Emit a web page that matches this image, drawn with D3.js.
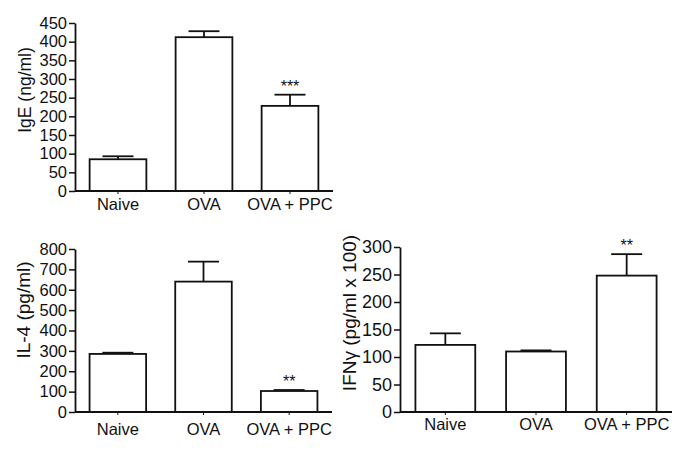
<!DOCTYPE html>
<html>
<head>
<meta charset="utf-8">
<script src="https://cdn.jsdelivr.net/npm/d3@7/dist/d3.min.js"></script>
<style>
  html, body { margin: 0; padding: 0; background: #fff; }
  svg { display: block; }
  text { font-family: "Liberation Sans", Arial, sans-serif; fill: #111; }
</style>
</head>
<body>
<svg id="chart" width="685" height="467"></svg>
<script>
const categories = ["Naive", "OVA", "OVA + PPC"];

const igeValues = [85, 412, 228];
const igeErrors = [93, 428, 258];
const igeSig = ["", "", "***"];
const igeTicks = [0, 50, 100, 150, 200, 250, 300, 350, 400, 450];

const il4Values = [285, 640, 103];
const il4Errors = [291, 738, 108];
const il4Sig = ["", "", "**"];
const il4Ticks = [0, 100, 200, 300, 400, 500, 600, 700, 800];

const ifnValues = [122, 110, 248];
const ifnErrors = [143, 112, 287];
const ifnSig = ["", "", "**"];
const ifnTicks = [0, 50, 100, 150, 200, 250, 300];

const svg = d3.select("#chart");

function panel(opt) {
  const g = svg.append("g");
  const x = d3.scaleBand().domain(categories).range([opt.x0, opt.x1])
    .paddingInner(0.34).paddingOuter(0.17);
  const y = d3.scaleLinear().domain([0, opt.ticks[opt.ticks.length - 1]]).range([opt.y0, opt.y1]);

  // bars
  g.selectAll("rect.bar").data(categories).enter().append("rect")
    .attr("x", d => x(d))
    .attr("y", (d, i) => y(opt.values[i]))
    .attr("width", x.bandwidth())
    .attr("height", (d, i) => y(0) - y(opt.values[i]))
    .attr("fill", "#fff").attr("stroke", "#111").attr("stroke-width", 1.8);

  // error bars (upper only)
  const cap = 31;
  categories.forEach((c, i) => {
    const cx = x(c) + x.bandwidth() / 2;
    if (opt.errors[i] > opt.values[i]) {
      g.append("line").attr("x1", cx).attr("x2", cx)
        .attr("y1", y(opt.values[i])).attr("y2", y(opt.errors[i]))
        .attr("stroke", "#111").attr("stroke-width", 1.8);
    }
    g.append("line").attr("x1", cx - cap / 2).attr("x2", cx + cap / 2)
      .attr("y1", y(opt.errors[i])).attr("y2", y(opt.errors[i]))
      .attr("stroke", "#111").attr("stroke-width", 1.8);
    if (opt.sig[i]) {
      g.append("text").attr("x", cx).attr("y", y(opt.errors[i]) - 3)
        .attr("text-anchor", "middle").style("font-size", "16px")
        .text(opt.sig[i]);
    }
  });

  // y axis
  const yAxis = d3.axisLeft(y).tickValues(opt.ticks).tickSize(6).tickPadding(2).tickSizeOuter(0);
  const ya = g.append("g").attr("transform", `translate(${opt.x0},0)`).call(yAxis);
  ya.select(".domain").attr("stroke", "#111").attr("stroke-width", 1.8);
  ya.selectAll(".tick line").attr("stroke", "#111").attr("stroke-width", 1.5);
  ya.selectAll(".tick text").style("font-size", opt.tickFont + "px").attr("fill", "#111")
    .style("font-family", "'Liberation Sans', Arial, sans-serif");

  // x axis
  const xAxis = d3.axisBottom(x).tickSize(3).tickSizeOuter(0).tickPadding(opt.labelPad);
  const xa = g.append("g").attr("transform", `translate(0,${opt.y0})`).call(xAxis);
  xa.select(".domain").attr("stroke", "#111").attr("stroke-width", 1.8)
    .attr("d", `M${opt.x0},0H${opt.x1}`);
  xa.selectAll(".tick line").attr("stroke", "#111").attr("stroke-width", 1);
  xa.selectAll(".tick text").style("font-size", "16.5px").attr("fill", "#111")
    .style("font-family", "'Liberation Sans', Arial, sans-serif");

  // y label
  g.append("text")
    .attr("transform", `translate(${opt.labelX},${opt.labelY}) rotate(-90)`)
    .attr("text-anchor", "middle").attr("dy", "0.35em")
    .style("font-size", opt.labelFont + "px")
    .text(opt.label);
}

panel({ x0: 75, x1: 333, y0: 191, y1: 23, ticks: igeTicks, values: igeValues, errors: igeErrors,
  sig: igeSig, label: "IgE (ng/ml)", labelX: 25, labelY: 90, labelPad: 4, labelFont: 17.5, tickFont: 16.5 });
panel({ x0: 75, x1: 332, y0: 412, y1: 249, ticks: il4Ticks, values: il4Values, errors: il4Errors,
  sig: il4Sig, label: "IL-4 (pg/ml)", labelX: 23, labelY: 310, labelPad: 8, labelFont: 19, tickFont: 16.5 });
panel({ x0: 400, x1: 672, y0: 412, y1: 247, ticks: ifnTicks, values: ifnValues, errors: ifnErrors,
  sig: ifnSig, label: "IFNγ (pg/ml x 100)", labelX: 349, labelY: 313, labelPad: 3, labelFont: 19, tickFont: 18 });
</script>
</body>
</html>
